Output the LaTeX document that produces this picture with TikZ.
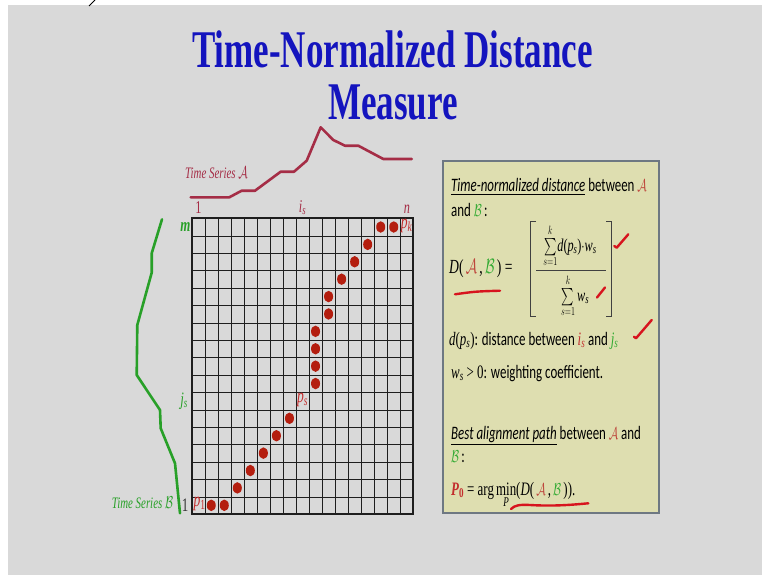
\documentclass[tikz,border=0pt]{standalone}
\usepackage{graphicx}
\usepackage{amsmath}
\usepackage{fontspec}
\setmainfont{Liberation Serif}
\newfontfamily\cbr{Carlito}
\usetikzlibrary{shapes.geometric}
\definecolor{bggray}{RGB}{217,217,217}
\definecolor{titleblue}{RGB}{20,20,190}
\definecolor{serA}{RGB}{165,45,70}
\definecolor{serB}{RGB}{40,160,40}
\definecolor{dotred}{RGB}{180,30,15}
\definecolor{pred}{RGB}{195,45,45}
\definecolor{boxfill}{RGB}{222,222,176}
\definecolor{boxdraw}{RGB}{110,120,130}
\definecolor{redmark}{RGB}{215,20,30}
\definecolor{cA}{RGB}{190,70,60}
\definecolor{cB}{RGB}{50,170,50}
\definecolor{gridc}{RGB}{30,30,30}
\newcommand{\sqz}[1]{\scalebox{0.68}[1]{#1}}
\newcommand{\sqt}[1]{\scalebox{0.66}[1]{#1}}
\newcommand{\ti}[1]{{\rmfamily\itshape #1}}
\newcommand{\tr}[1]{{\rmfamily\upshape #1}}
\newcommand{\sbs}[1]{\textsubscript{\rmfamily\itshape #1}}
\newcommand{\scA}{\textcolor{cA}{\mathcal{A}}}
\newcommand{\scB}{\textcolor{cB}{\mathcal{B}}}
\begin{document}
\begin{tikzpicture}[x=1pt,y=-1pt,
  titletxt/.style={font=\fontsize{53}{60}\selectfont\bfseries, text=titleblue, inner sep=0pt, anchor=base},
  gridline/.style={draw=gridc, line width=1.4pt},
  gridborder/.style={draw=gridc, line width=2pt},
  dot/.style={ellipse, fill=dotred, inner sep=0pt, minimum width=9pt, minimum height=11.5pt},
  plab/.style={font=\fontsize{20}{22}\selectfont, text=pred, inner sep=0pt},
  toplab/.style={font=\fontsize{18}{20}\selectfont, text=serA, inner sep=0pt, anchor=base},
  leftlab/.style={font=\fontsize{19}{20}\selectfont, text=serB, inner sep=0pt},
  serline/.style={line width=2.6pt, line join=round, line cap=round},
  serlab/.style={font=\fontsize{16}{18}\selectfont\itshape, inner sep=0pt},
  boxtxt/.style={font=\cbr\fontsize{19}{22}\selectfont, anchor=base west, inner sep=0pt},
  fractxt/.style={font=\fontsize{18}{20}\selectfont, anchor=base, inner sep=0pt},
  bracket/.style={draw=black!75, line width=0.9pt},
  handmark/.style={draw=redmark, line width=2.4pt, line cap=round, line join=round}
]
\useasboundingbox (0,0) rectangle (762,575);
\fill[white] (0,0) rectangle (762,575);
\fill[bggray] (8,5) rectangle (762,575);
\draw[black, line width=0.8pt] (95,0) -- (89,6);

% title
\node[titletxt] (t1) at (392.5,68) {\sqt{Time-Normalized Distance}};
\node[titletxt] (t2) at (393,120) {\sqt{Measure}};

% time series A
\draw[serline, draw=serA] (190.7,197.3) -- (229.3,197.3) -- (241.7,190.7) -- (255,190.7) -- (280.7,171.7) -- (294,171.7) -- (306.7,160.7) -- (320.7,127.3) -- (333.3,140) -- (345,145.7) -- (358.3,145.7) -- (383.3,159) -- (411.7,159);
\node[serlab, text=serA] (tsA) at (216.5,173) {\sqz{Time Series $\mathcal{A}$}};

% time series B
\draw[serline, draw=serB] (162,219.3) -- (151.7,253.3) -- (151.7,272.7) -- (137.3,325) -- (136.7,375) -- (160,410) -- (160.7,428.3) -- (175,463.3) -- (176,473.3) -- (180,513.3);
\node[serlab, text=serB] (tsB) at (142.5,503) {\sqz{Time Series $\mathcal{B}$}};

% grid
\foreach \i in {1,...,16} {
  \pgfmathsetmacro{\gx}{round(191.7+\i*13.0353)+0.5}
  \pgfmathsetmacro{\gy}{round(514-\i*17.3941)+0.5}
  \draw[gridline] (\gx,218.3) -- (\gx,514);
  \draw[gridline] (191.7,\gy) -- (413.3,\gy);
}
\draw[gridborder] (192,218) rectangle (413,514);

% dots
\foreach \c/\r [count=\k] in {2/1,3/1,4/2,5/3,6/4,7/5,8/6,10/8,10/9,10/10,10/11,11/12,11/13,12/14,13/15,14/16,15/17,16/17}
  \node[dot] (dot\k) at ({185.18+13.0353*\c},{522.7-17.3941*\r}) {};

% path labels
\node[plab] (p1) at (199.5,504) {\sqz{\ti{p}\textsubscript{\rmfamily 1}}};
\node[plab] (ps) at (302.5,400) {\sqz{\ti{p}\sbs{s}}};
\node[plab] (pk) at (406.5,226) {\sqz{\ti{p}\sbs{k}}};

% axis labels
\node[toplab] (a1) at (198.5,213) {\sqz{1}};
\node[toplab] (ais) at (302.5,212) {\sqz{\ti{i}\sbs{s}}};
\node[toplab] (an) at (406.9,213) {\sqz{\ti{n}}};
\node[leftlab, anchor=east] (bm) at (190.5,227) {\sqz{\bfseries\itshape m}};
\node[leftlab] (bjs) at (184,401) {\sqz{\ti{j}\sbs{s}}};
\node[leftlab, text=black!80] (b1) at (185,505) {\sqz{1}};

% right box
\draw[fill=boxfill, draw=boxdraw, line width=1.5pt] (443,161) rectangle (659,513);
\node[boxtxt] (l1) at (451,191.5) {\sqz{\underline{\itshape Time-normalized distance} between $\scA$}};
\node[boxtxt] (l2) at (451,216.5) {\sqz{and $\scB$\,:}};
\node[boxtxt, font=\fontsize{20}{22}\selectfont] (l3) at (449,273) {\sqz{\ti{D}(\,$\scA$\,,\,$\scB$\,) =}};
\draw[bracket] (536,221.7) -- (530,221.7) -- (530,316.7) -- (536,316.7);
\draw[bracket] (606,221.7) -- (611.7,221.7) -- (611.7,316.7) -- (606,316.7);
\node[fractxt] (num) at (570,251) {\sqz{$\sum\limits_{s=1}^{k}$\ti{d}(\ti{p}\sbs{s})$\cdot$\ti{w}\sbs{s}}};
\node[fractxt] (den) at (575,301) {\sqz{$\sum\limits_{s=1}^{k}$\,\ti{w}\sbs{s}}};
\draw[black!75, line width=0.8pt] (536,270) -- (606,270);
\node[boxtxt] (l4) at (449,345) {\sqz{\ti{d}\tr{(}\ti{p}\sbs{s}\tr{)}: distance between \textcolor{pred}{\ti{i}\sbs{s}} and \textcolor{cB}{\ti{j}\sbs{s}}}};
\node[boxtxt] (l5) at (451,378) {\sqz{\ti{w}\sbs{s} \tr{> 0}: weighting coefficient.}};
\node[boxtxt] (l6) at (451,439) {\sqz{\underline{\itshape Best alignment path} between $\scA$ and}};
\node[boxtxt] (l7) at (451,462) {\sqz{$\scB$\,:}};
\node[boxtxt] (l8) at (451,495) {\sqz{\textcolor{pred}{\rmfamily\bfseries\itshape P\textsubscript{\upshape 0}}\rmfamily\ = arg\,$\underset{\text{\rmfamily\itshape P}}{\text{\rmfamily min}}$(\ti{D}(\,$\scA$\,,\,$\scB$\,)).}};

% red hand marks
\draw[handmark] (455,294.3) .. controls (475,291.5) .. (500,290.7);
\draw[handmark] (614.3,246) -- (616.7,247.7) -- (628.3,234.3);
\draw[handmark] (597,297.5) -- (605,287.5);
\draw[handmark] (634,336.7) -- (636,338.3) -- (651.7,320);
\draw[handmark] (511,509) .. controls (515,505) and (520,504.5) .. (530,505) .. controls (555,506.5) and (575,504.5) .. (588.3,503.3);
\end{tikzpicture}
\end{document}
